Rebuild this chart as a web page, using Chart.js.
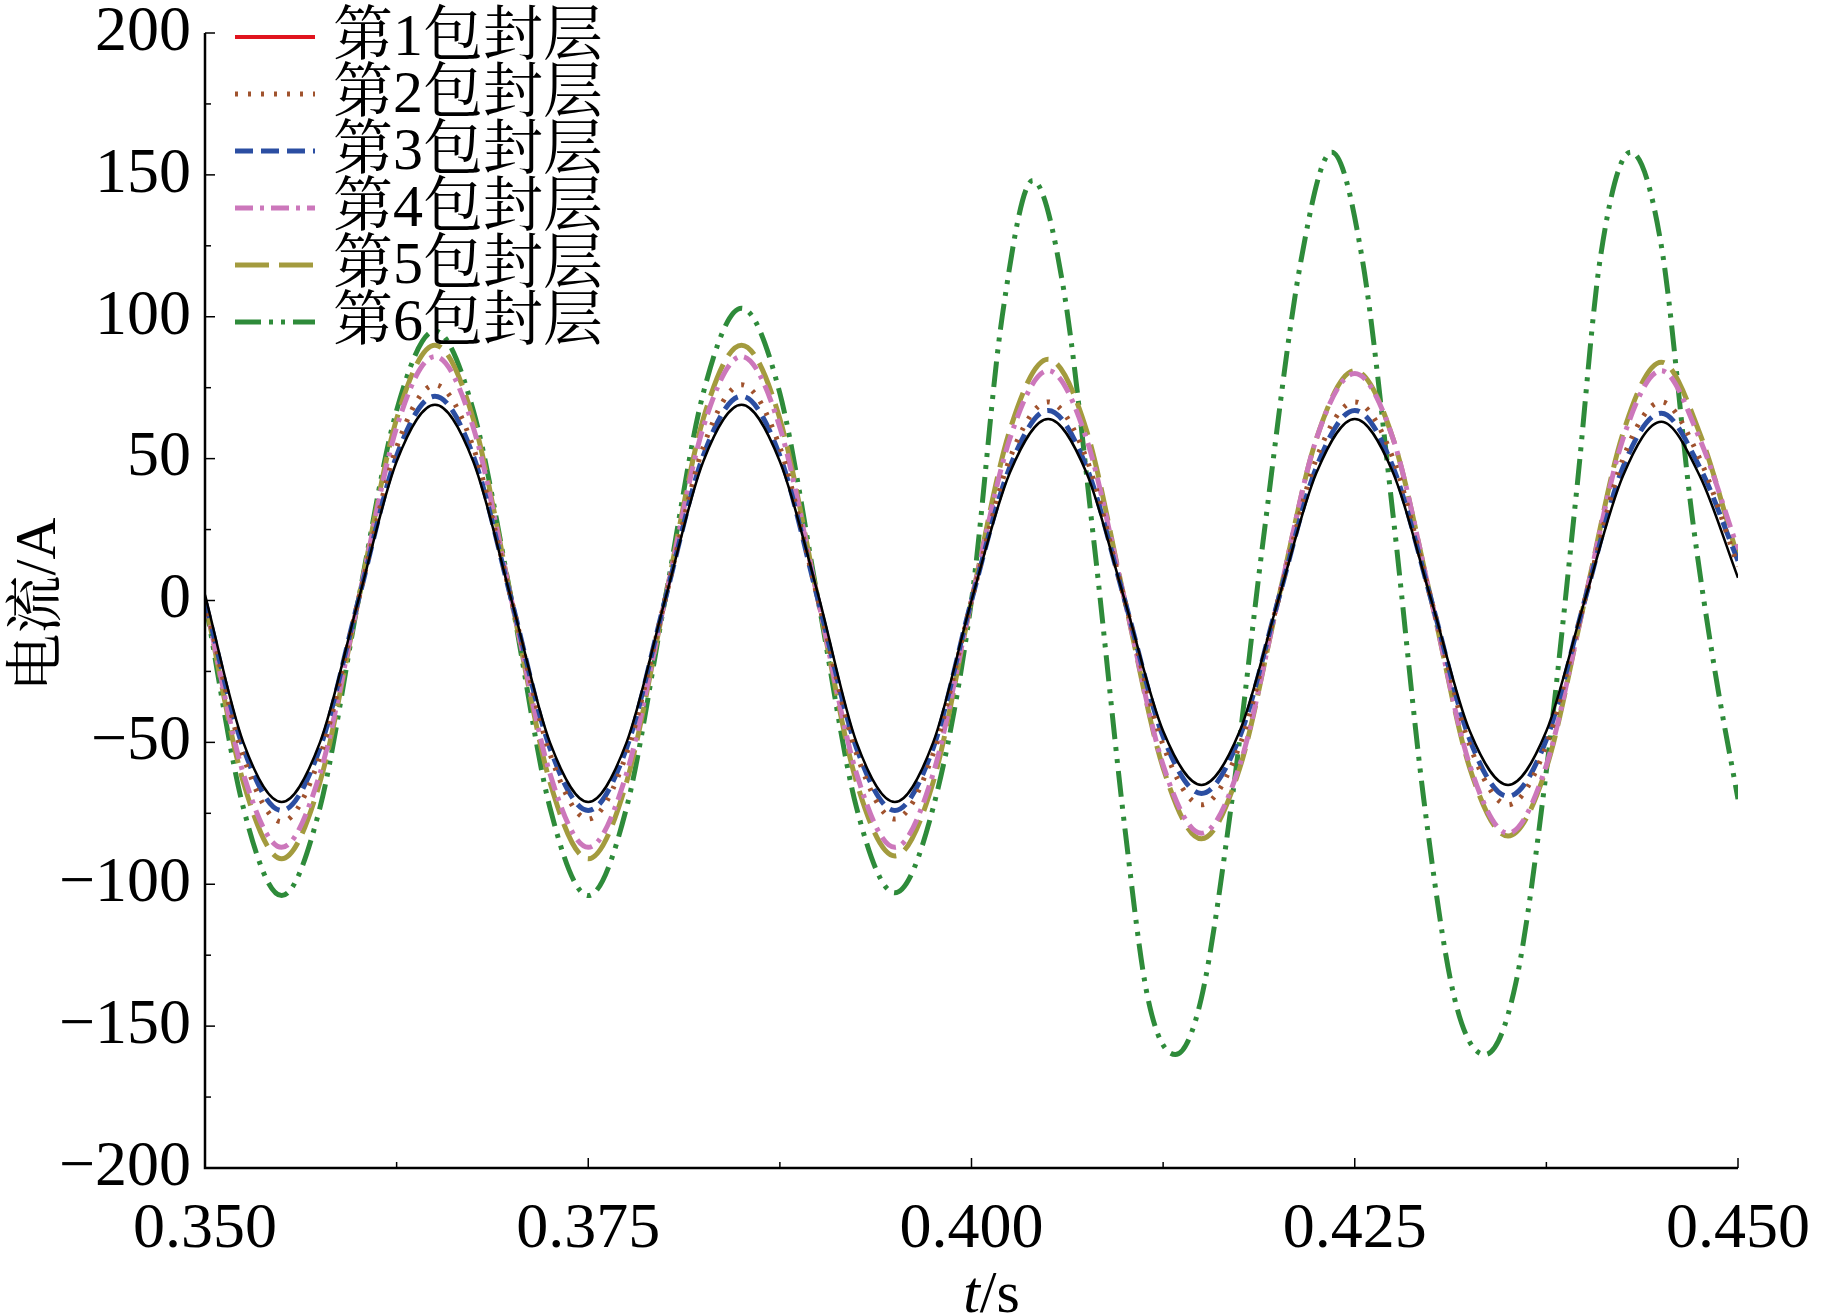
<!DOCTYPE html>
<html><head><meta charset="utf-8">
<script src="https://cdn.jsdelivr.net/npm/chart.js@4"></script>
<style>html,body{margin:0;padding:0;background:#fff}#w{width:1822px;height:1315px}</style>
</head><body><div id="w"><canvas id="c"></canvas></div>
<script>
const seriesNames = ["第1包封层","第2包封层","第3包封层","第4包封层","第5包封层","第6包封层"];
const xTicks = [0.350,0.375,0.400,0.425,0.450];
const yTicks = [200,150,100,50,0,-50,-100,-150,-200];
const times = [0.350,0.3525,0.355,0.3575,0.360,0.3625,0.365,0.3675,0.370,0.3725,0.375,0.3775,0.380,0.3825,0.385,0.3875,0.390,0.3925,0.395,0.3975,0.400,0.4025,0.405,0.4075,0.410,0.4125,0.415,0.4175,0.420,0.4225,0.425,0.4275,0.430,0.4325,0.435,0.4375,0.440,0.4425,0.445,0.4475,0.450];
const s1 = [2,-50,-71,-50,0,49,69,49,0,-50,-71,-50,0,49,69,49,2,-50,-71,-50,0,45,64,45,0,-46,-65,-46,0,45,64,45,0,-46,-65,-46,0,44,63,44,8];
const s2 = [0,-55,-78,-55,0,54,76,54,0,-54,-77,-54,0,54,76,54,0,-54,-77,-54,0,50,70,50,0,-51,-72,-51,0,50,70,50,0,-51,-72,-51,0,50,70,50,12];
const s3 = [0,-52,-74,-52,0,51,72,51,0,-52,-74,-52,0,51,72,51,0,-52,-74,-52,0,47,67,47,0,-48,-68,-48,0,47,67,47,0,-49,-69,-49,0,47,66,47,14];
const s4 = [0,-61,-87,-61,0,61,86,61,0,-61,-87,-61,0,61,86,61,0,-61,-87,-61,0,57,81,57,0,-58,-82,-58,0,57,80,57,0,-58,-82,-58,0,57,81,57,18];
const s5 = [0,-64,-91,-64,0,64,90,64,0,-64,-91,-64,0,64,90,64,0,-64,-90,-64,0,60,85,60,0,-59,-84,-59,0,57,81,57,0,-59,-83,-59,0,59,84,59,15];
const times6 = [0.350,0.3525,0.355,0.3575,0.360,0.3625,0.365,0.3675,0.370,0.3725,0.375,0.3775,0.380,0.3825,0.385,0.3875,0.390,0.3925,0.395,0.3975,0.400,0.402,0.404,0.406,0.408,0.410,0.4115,0.4133,0.415,0.417,0.419,0.4215,0.4235,0.4255,0.4275,0.4295,0.4315,0.4335,0.4355,0.4375,0.4395,0.441,0.443,0.445,0.447,0.4485,0.450];
const s6 = [0,-73,-104,-73,0,67,95,67,0,-73,-104,-73,0,73,103,73,0,-73,-103,-73,0,100,148,110,20,-80,-140,-160,-140,-70,20,120,158,120,30,-70,-140,-160,-135,-60,40,120,158,125,30,-25,-70];

const styles = [
 {c:'#000',lc:'#e0141e',w:2.5,d:[]},
 {c:'#a0522d',w:5,d:[3,10]},
 {c:'#2b4ea2',w:5,d:[18,8]},
 {c:'#cc77bb',w:5,d:[18,7,4,7]},
 {c:'#a39b3e',w:5,d:[34,10]},
 {c:'#2e8b3a',w:5,d:[26,8,4,8,4,8]}
];
const vals=[s1,s2,s3,s4,s5,s6];
const datasets = vals.map((v,i)=>({
  label:seriesNames[i],
  data:v.map((y,k)=>({x:(i===5?times6:times)[k],y})),
  borderColor:styles[i].c,borderWidth:styles[i].w,borderDash:styles[i].d,
  pointRadius:0,cubicInterpolationMode:'monotone',fill:false
}));
const FONT='"Liberation Serif","Noto Serif CJK SC","Noto Sans CJK SC",serif';
const deco={id:'deco',afterDraw(ch){
  const g=ch.ctx,a=ch.chartArea,xs=ch.scales.x,ys=ch.scales.y;
  g.save();g.strokeStyle='#000';g.lineWidth=2.5;
  g.beginPath();g.moveTo(a.left,a.top);g.lineTo(a.left,a.bottom);g.lineTo(a.right,a.bottom);g.stroke();
  g.lineWidth=1.5;
  for(let v=-200;v<=200;v+=25){const y=ys.getPixelForValue(v);const L=v%50===0?10:6;g.beginPath();g.moveTo(a.left,y);g.lineTo(a.left+L,y);g.stroke();}
  for(let t=0;t<=8;t++){const x=xs.getPixelForValue(0.35+t*0.0125);const L=t%2===0?10:6;g.beginPath();g.moveTo(x,a.bottom);g.lineTo(x,a.bottom-L);g.stroke();}
  g.fillStyle='#000';g.font='64px '+FONT;g.textAlign='right';g.textBaseline='middle';
  yTicks.forEach(v=>g.fillText(String(v).replace('-','\u2212'),a.left-14,ys.getPixelForValue(v)));
  g.textAlign='center';g.textBaseline='top';
  xTicks.forEach(v=>g.fillText(v.toFixed(3),xs.getPixelForValue(v),a.bottom+30));
  g.textBaseline='alphabetic';g.textAlign='left';
  g.font='italic 60px '+FONT;const w1=g.measureText('t').width;
  g.font='60px '+FONT;const w2=g.measureText('/s').width;
  const cx=(a.left+a.right)/2+20-(w1+w2)/2;
  g.font='italic 60px '+FONT;g.fillText('t',cx,1312);
  g.font='60px '+FONT;g.fillText('/s',cx+w1,1312);
  g.save();g.translate(40,(a.top+a.bottom)/2+4);g.rotate(-Math.PI/2);g.textAlign='center';g.textBaseline='middle';
  g.font='58px '+FONT;g.fillText('电流/A',0,0);g.restore();
  for(let i=0;i<6;i++){
    const y=a.top+4+i*57;const s=styles[i];
    g.strokeStyle=s.lc||s.c;g.lineWidth=s.lc?4:s.w;g.setLineDash(s.d);
    g.beginPath();g.moveTo(a.left+30,y);g.lineTo(a.left+110,y);g.stroke();g.setLineDash([]);
    g.fillStyle='#000';g.font='60px '+FONT;g.textAlign='left';g.textBaseline='middle';
    g.fillText(seriesNames[i],a.left+128,y+2);
  }
  g.restore();
}};
new Chart(document.getElementById('c'),{
  type:'line',data:{datasets},
  options:{responsive:true,maintainAspectRatio:false,animation:false,
   layout:{padding:{top:33,right:84,left:0,bottom:0}},
   plugins:{legend:{display:false},tooltip:{enabled:false}},
   scales:{
    x:{type:'linear',min:0.35,max:0.45,grid:{display:false},border:{display:false},ticks:{display:false},
       afterFit(s){s.height=147;}},
    y:{min:-200,max:200,grid:{display:false},border:{display:false},ticks:{display:false},
       afterFit(s){s.width=205;}}
   }},
  plugins:[deco]
});
</script></body></html>
